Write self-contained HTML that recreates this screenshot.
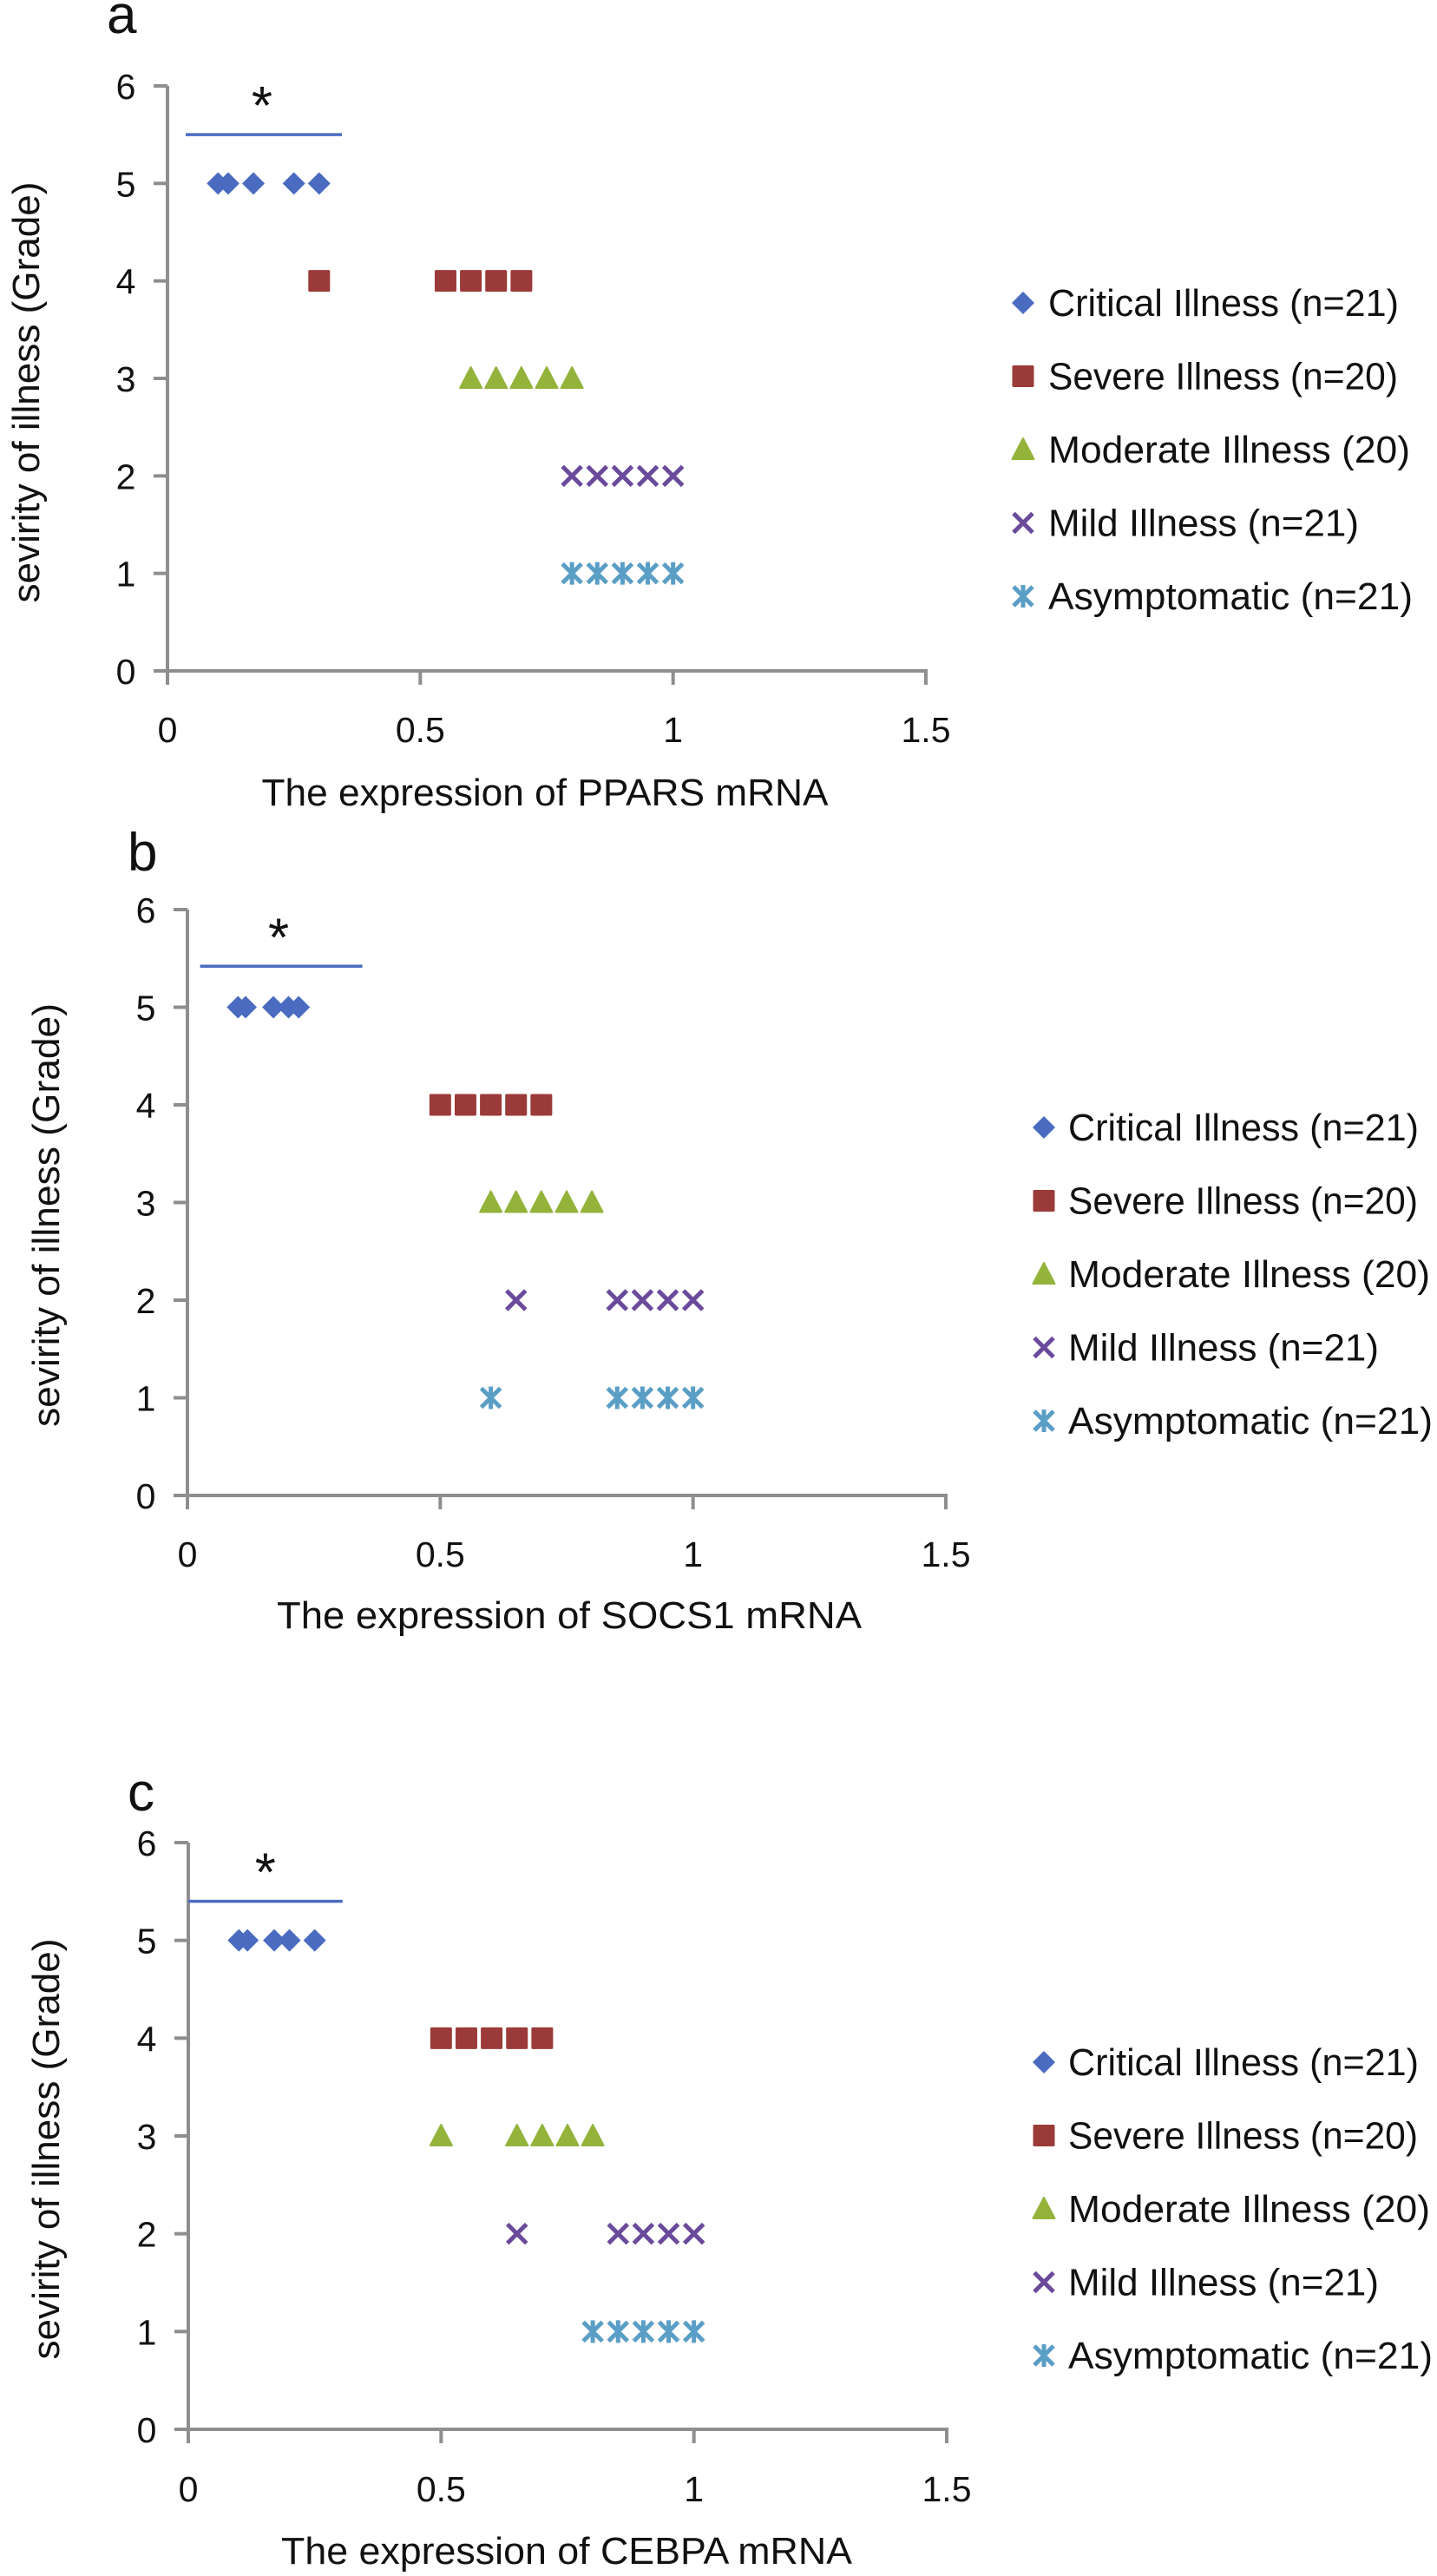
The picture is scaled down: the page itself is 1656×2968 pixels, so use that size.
<!DOCTYPE html>
<html><head><meta charset="utf-8"><style>
html,body{margin:0;padding:0;background:#fff}
svg{display:block}
text{font-family:"Liberation Sans",sans-serif;fill:#111}
</style></head><body>
<svg id="fig" width="1656" height="2968" viewBox="0 0 1656 2968" xmlns="http://www.w3.org/2000/svg"></svg>
<script>
// ---- data ----
const seriesNames = ["Critical Illness (n=21)","Severe Illness (n=20)","Moderate Illness (20)","Mild Illness (n=21)","Asymptomatic (n=21)"];
const seriesGrades = [5,4,3,2,1];
const xTicks = [0,0.5,1,1.5];
const xTickLabels = ["0","0.5","1","1.5"];
const yTicks = [0,1,2,3,4,5,6];
const panelLetters = ["a","b","c"];
const xTitles = ["The expression of PPARS mRNA","The expression of SOCS1  mRNA","The expression of CEBPA mRNA"];
// panel a values
const aCritical = [0.10,0.12,0.17,0.25,0.30];
const aSevere = [0.30,0.55,0.60,0.65,0.70];
const aModerate = [0.60,0.65,0.70,0.75,0.80];
const aMild = [0.80,0.85,0.90,0.95,1.00];
const aAsym = [0.80,0.85,0.90,0.95,1.00];
// panel b values
const bCritical = [0.10,0.115,0.17,0.20,0.22];
const bSevere = [0.50,0.55,0.60,0.65,0.70];
const bModerate = [0.60,0.65,0.70,0.75,0.80];
const bMild = [0.65,0.85,0.90,0.95,1.00];
const bAsym = [0.60,0.85,0.90,0.95,1.00];
// panel c values
const cCritical = [0.10,0.117,0.17,0.20,0.25];
const cSevere = [0.50,0.55,0.60,0.65,0.70];
const cModerate = [0.50,0.65,0.70,0.75,0.80];
const cMild = [0.65,0.85,0.90,0.95,1.00];
const cAsym = [0.80,0.85,0.90,0.95,1.00];
// significance bars [grade, xStart, xEnd]
const sigA = [5.5,0.036,0.345];
const sigB = [5.42,0.025,0.346];
const sigC = [5.4,0.0,0.305];

const panelData = [
  [aCritical,aSevere,aModerate,aMild,aAsym],
  [bCritical,bSevere,bModerate,bMild,bAsym],
  [cCritical,cSevere,cModerate,cMild,cAsym]];
const sigData = [sigA,sigB,sigC];

// ---- layout ----
const layouts = [
  {x0:193,x1:1067,y0:773,y6:99, letter:[123,38], xtb:854, ttl:[628,928,653], ytl:[30,452,485], leg:[1179,1208,349]},
  {x0:216,x1:1090,y0:1723,y6:1048, letter:[147,1003], xtb:1804, ttl:[656,1876,674], ytl:[53,1400,488], leg:[1203,1231,1299]},
  {x0:217,x1:1091,y0:2799,y6:2123, letter:[147,2086], xtb:2881, ttl:[653,2954,658], ytl:[53,2476,485], leg:[1203,1231,2376]}];
const colors = ["#4a6bc0","#9b3b39","#93b33b","#6a4a9a","#5a9ec6"];
const legWidths = [404,403,417,358,420];
const NS = "http://www.w3.org/2000/svg";
const svg = document.getElementById("fig");
function mk(tag, attrs, parent){
  const e = document.createElementNS(NS, tag);
  for (const k in attrs) e.setAttribute(k, attrs[k]);
  (parent||svg).appendChild(e);
  return e;
}
function marker(g, type, cx, cy, color){
  let m;
  if (type===0){
    m = mk("path",{d:`M${cx} ${cy-13}L${cx+13} ${cy}L${cx} ${cy+13}L${cx-13} ${cy}Z`,fill:color},g);
  } else if (type===1){
    m = mk("rect",{x:cx-12.5,y:cy-12.5,width:25,height:25,rx:1.5,fill:color},g);
  } else if (type===2){
    m = mk("path",{d:`M${cx} ${cy-13}L${cx+12.5} ${cy+11}L${cx-12.5} ${cy+11}Z`,fill:color,"stroke":color,"stroke-width":2,"stroke-linejoin":"round"},g);
  } else if (type===3){
    m = mk("path",{d:`M${cx-11} ${cy-11}L${cx+11} ${cy+11}M${cx+11} ${cy-11}L${cx-11} ${cy+11}`,stroke:color,"stroke-width":5,fill:"none"},g);
  } else {
    m = mk("path",{d:`M${cx-11} ${cy-11}L${cx+11} ${cy+11}M${cx+11} ${cy-11}L${cx-11} ${cy+11}M${cx} ${cy-13}L${cx} ${cy+13}`,stroke:color,"stroke-width":5,fill:"none"},g);
  }
  return m;
}

layouts.forEach((L, p) => {
  const g = mk("g",{});
  
  
  const sx = v => L.x0 + (L.x1 - L.x0) * v / 1.5;
  const sy = v => L.y0 - (L.y0 - L.y6) * v / 6;
  const lt = mk("text",{x:L.letter[0],y:L.letter[1],"font-size":62},g);
  lt.textContent = panelLetters[p];
  
  
  const ax = mk("g",{stroke:"#8e8e8e","stroke-width":4,fill:"none"},g);
  
  
  mk("line",{x1:L.x0,y1:sy(6),x2:L.x0,y2:L.y0+16},ax);
  mk("line",{x1:L.x0-16,y1:L.y0,x2:L.x1+2,y2:L.y0},ax);
  yTicks.forEach(t => {
    mk("line",{x1:L.x0-16,y1:sy(t),x2:L.x0,y2:sy(t)},ax);
    const tx = mk("text",{x:L.x0-48,y:sy(t)+15,"font-size":41,"text-anchor":"middle"},g);
    tx.textContent = String(t);
    
    
  });
  xTicks.forEach((t,i) => {
    mk("line",{x1:sx(t),y1:L.y0,x2:sx(t),y2:L.y0+16},ax);
    const tx = mk("text",{x:sx(t),y:L.xtb+1,"font-size":41,"text-anchor":"middle"},g);
    tx.textContent = xTickLabels[i];
    
    
  });
  const xt = mk("text",{x:L.ttl[0],y:L.ttl[1],"font-size":44,"text-anchor":"middle",textLength:L.ttl[2],lengthAdjust:"spacingAndGlyphs"},g);
  xt.textContent = xTitles[p];
  
  
  const yt = mk("text",{x:0,y:0,"font-size":44,"text-anchor":"middle",textLength:L.ytl[2],lengthAdjust:"spacingAndGlyphs",transform:`translate(${L.ytl[0]+15},${L.ytl[1]}) rotate(-90)`},g);
  yt.textContent = "sevirity of illness (Grade)";
  
  
  const s = sigData[p];
  const sl = mk("line",{x1:sx(s[1]),y1:sy(s[0]),x2:sx(s[2]),y2:sy(s[0]),stroke:"#4a6bc0","stroke-width":3.5},g);
  
  
  const st = mk("text",{x:(sx(s[1])+sx(s[2]))/2 + (p===0?-2:p===1?-3:0),y:sy(s[0])-12,"font-size":62,"text-anchor":"middle"},g);
  st.textContent = "*";
  
  
  panelData[p].forEach((vals, si) => {
    const sg = mk("g",{},g);
    
    
    vals.forEach(v => {
      const m = marker(sg, si, sx(v), sy(seriesGrades[si]), colors[si]);
      
      
    });
  });
  const lg = mk("g",{},g);
  
  
  seriesNames.forEach((n, si) => {
    const cy = L.leg[2] + si * 84.5;
    const eg = mk("g",{},lg);
    
    
    marker(eg, si, L.leg[0], cy, colors[si]);
    const t = mk("text",{x:L.leg[1],y:cy+15,"font-size":44,textLength:legWidths[si],lengthAdjust:"spacingAndGlyphs"},eg);
    t.textContent = n;
  });
});
</script>
</body></html>
